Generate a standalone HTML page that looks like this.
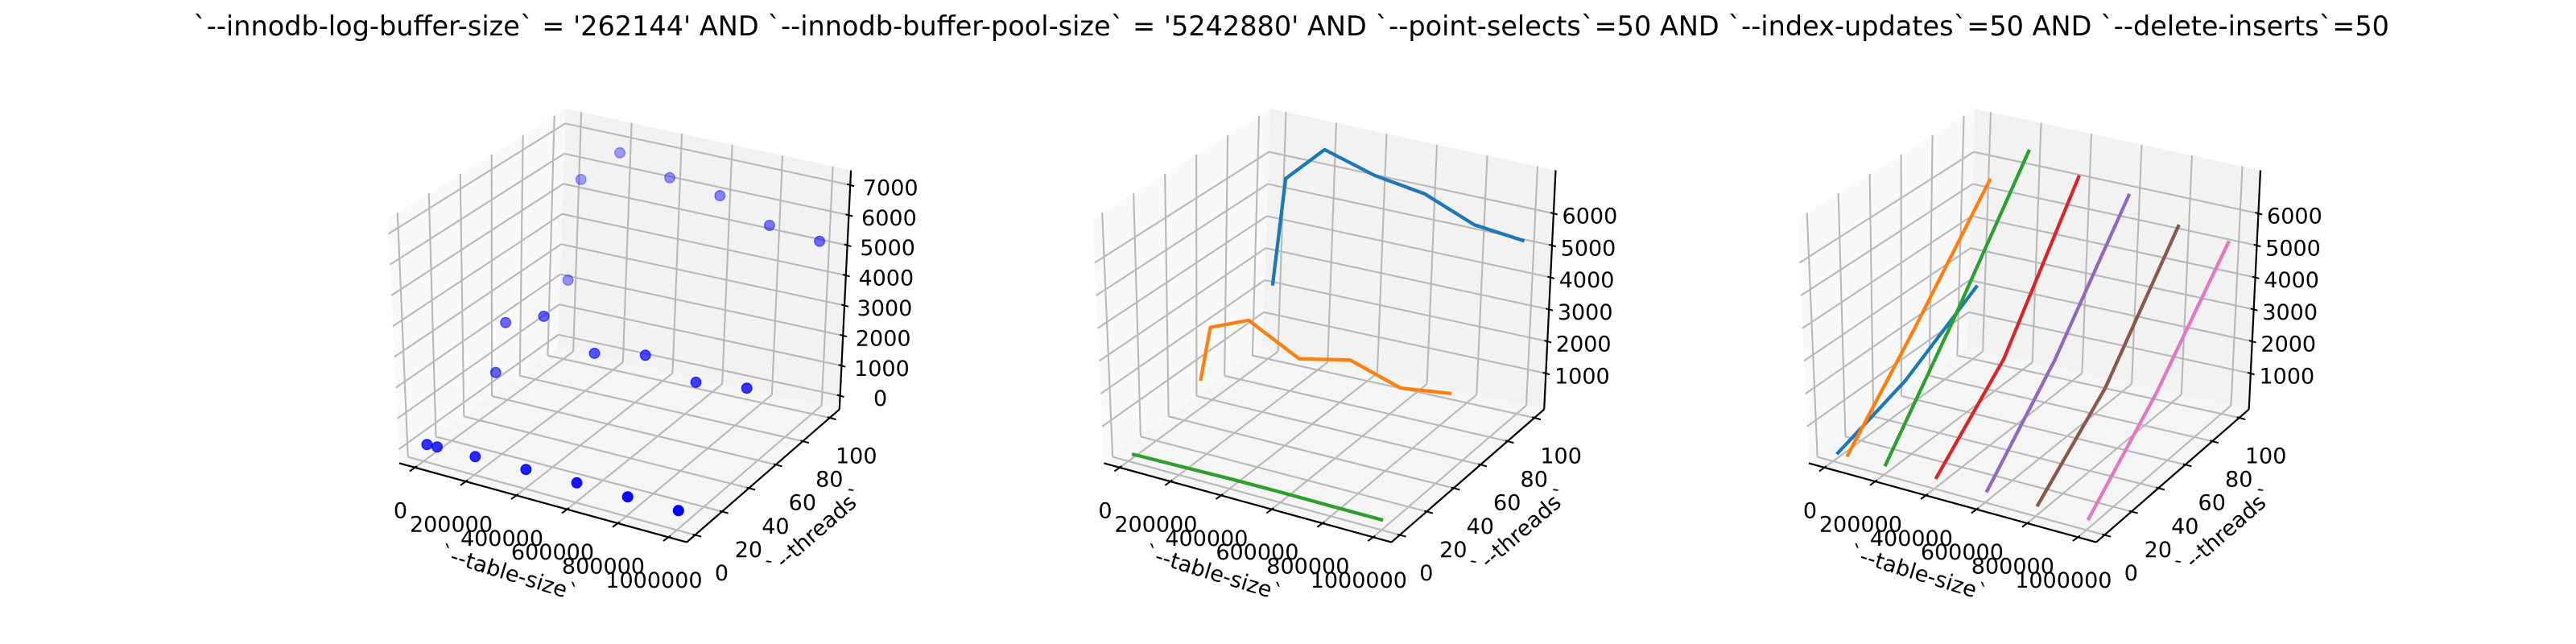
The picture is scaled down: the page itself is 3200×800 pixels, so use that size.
<!DOCTYPE html>
<html><head><meta charset="utf-8">
<style>
html,body{margin:0;padding:0;background:#fff;}
svg{display:block;font-family:"DejaVu Sans","Liberation Sans",sans-serif;}
</style></head>
<body>
<svg id="chart" width="3200" height="800" viewBox="0 0 3200 800" xmlns="http://www.w3.org/2000/svg">
<rect x="0" y="0" width="3200" height="800" fill="#ffffff"/>
<text x="1604" y="44" font-size="34" text-anchor="middle" textLength="2728" lengthAdjust="spacingAndGlyphs">`--innodb-log-buffer-size` = '262144' AND `--innodb-buffer-pool-size` = '5242880'  AND `--point-selects`=50 AND `--index-updates`=50 AND `--delete-inserts`=50</text>
</svg>
<script>
// ---- data ----
const tableSizes = [10000, 50000, 200000, 400000, 600000, 800000, 1000000];
const threadCounts = [1, 50, 100];
const tpsThreads1 = [80, 90, 110, 140, 150, 140, 140];
const tpsThreads50 = [800, 2520, 3030, 2220, 2560, 2080, 2290];
const tpsThreads100 = [2180, 5580, 6740, 6280, 6050, 5430, 5270];
const xTickValues = [0, 200000, 400000, 600000, 800000, 1000000];
const xTickLabels = ["0", "200000", "400000", "600000", "800000", "1000000"];
const yTickValues = [0, 20, 40, 60, 80, 100];
const yTickLabels = ["0", "20", "40", "60", "80", "100"];
const zTickValues1 = [0, 1000, 2000, 3000, 4000, 5000, 6000, 7000];
const zTickLabels1 = ["0", "1000", "2000", "3000", "4000", "5000", "6000", "7000"];
const zTickValues2 = [1000, 2000, 3000, 4000, 5000, 6000];
const zTickLabels2 = ["1000", "2000", "3000", "4000", "5000", "6000"];
const lineColors = ["#1f77b4", "#ff7f0e", "#2ca02c", "#d62728", "#9467bd", "#8c564b", "#e377c2"];
const tpsByThreads = [tpsThreads1, tpsThreads50, tpsThreads100];

const svg = document.getElementById('chart');
const NS = "http://www.w3.org/2000/svg";
function mk(tag, attrs, parent) {
  const el = document.createElementNS(NS, tag);
  for (const k in attrs) el.setAttribute(k, attrs[k]);
  (parent || svg).appendChild(el);
  return el;
}

// screen positions of the 8 box corners for panel 1 (index: x,y,z bits)
const BOX_CORNERS = {
  c000: [496.0, 575.4], c100: [853.1, 673.6], c110: [1042.8, 508.5], c010: [693.0, 432.6],
  c001: [481.7, 271.7], c101: [858.0, 367.6], c111: [1057.1, 211.6], c011: [702.7, 135.0]
};
function makeProj(lim, dx) {
  const C = {};
  for (const k in BOX_CORNERS) C[k] = [BOX_CORNERS[k][0] + dx, BOX_CORNERS[k][1]];
  return function (x, y, z) {
    const u = (x - lim.x[0]) / (lim.x[1] - lim.x[0]);
    const v = (y - lim.y[0]) / (lim.y[1] - lim.y[0]);
    const w = (z - lim.z[0]) / (lim.z[1] - lim.z[0]);
    const r = [0, 0];
    for (let i = 0; i < 2; i++) {
      const b0 = C.c000[i] * (1 - u) * (1 - v) + C.c100[i] * u * (1 - v) + C.c110[i] * u * v + C.c010[i] * (1 - u) * v;
      const b1 = C.c001[i] * (1 - u) * (1 - v) + C.c101[i] * u * (1 - v) + C.c111[i] * u * v + C.c011[i] * (1 - u) * v;
      r[i] = b0 * (1 - w) + b1 * w;
    }
    const depth = (1 - u) * 0.5 + v * 0.866 + w * 0.3;
    return [r[0], r[1], depth];
  };
}

function line(g, p, q, stroke, w, name) {
  const el = mk('line', {x1: p[0], y1: p[1], x2: q[0], y2: q[1], stroke: stroke, 'stroke-width': w}, g);
  
  
  return el;
}
function poly(g, pts, fill, name) {
  const el = mk('polygon', {points: pts.map(p => p[0].toFixed(1) + ',' + p[1].toFixed(1)).join(' '), fill: fill, stroke: 'none'}, g);
  
  
}
function text(g, x, y, s, size, anchor, rot, name) {
  const el = mk('text', {x: x, y: y, 'font-size': size, 'text-anchor': anchor, 'dominant-baseline': 'central', fill: '#000'}, g);
  if (rot) el.setAttribute('transform', 'rotate(' + rot + ' ' + x + ' ' + y + ')');
  el.textContent = s;
  
  
}

function drawAxes(idx, lim, dxPanel, zTicks, zLabels, zLabelDx) {
  const g = mk('g', {});
  
  
  const P = makeProj(lim, dxPanel);
  const [x0, x1] = lim.x, [y0, y1] = lim.y, [z0, z1] = lim.z;
  poly(g, [P(x0, y0, z0), P(x1, y0, z0), P(x1, y1, z0), P(x0, y1, z0)], '#f5f5f5', 'floor-pane');
  poly(g, [P(x0, y0, z0), P(x0, y1, z0), P(x0, y1, z1), P(x0, y0, z1)], '#f9f9f9', 'left-pane');
  poly(g, [P(x0, y1, z0), P(x1, y1, z0), P(x1, y1, z1), P(x0, y1, z1)], '#f2f2f2', 'back-pane');
  const gc = '#b8b8b8', gw = 2.1;
  xTickValues.forEach(t => {
    line(g, P(t, y0, z0), P(t, y1, z0), gc, gw, 'x-grid-floor');
    line(g, P(t, y1, z0), P(t, y1, z1), gc, gw, 'x-grid-back');
  });
  yTickValues.forEach(t => {
    line(g, P(x0, t, z0), P(x1, t, z0), gc, gw, 'y-grid-floor');
    line(g, P(x0, t, z0), P(x0, t, z1), gc, gw, 'y-grid-left');
  });
  zTicks.forEach(t => {
    line(g, P(x0, y0, t), P(x0, y1, t), gc, gw, 'z-grid-left');
    line(g, P(x0, y1, t), P(x1, y1, t), gc, gw, 'z-grid-back');
  });
  line(g, P(x0, y0, z0), P(x1, y0, z0), '#000', 2.2, 'x-axis-line');
  line(g, P(x1, y0, z0), P(x1, y1, z0), '#000', 2.2, 'y-axis-line');
  line(g, P(x1, y1, z0), P(x1, y1, z1), '#000', 2.2, 'z-axis-line');
  function unit(p, q) { const dx = q[0] - p[0], dy = q[1] - p[1], l = Math.hypot(dx, dy); return [dx / l, dy / l]; }
  const dy = unit(P(x0, y0, z0), P(x0, y1, z0));
  const dxv = unit(P(x0, y0, z0), P(x1, y0, z0));
  xTickValues.forEach((t, i) => {
    const p = P(t, y0, z0);
    line(g, [p[0] - dy[0] * 8, p[1] - dy[1] * 8], [p[0] + dy[0] * 3, p[1] + dy[1] * 3], '#000', 2, 'x-tick');
    text(g, p[0] - 18, p[1] + 54, xTickLabels[i], 27, 'middle', 0, 'x-tick-label');
  });
  yTickValues.forEach((t, i) => {
    const p = P(x1, t, z0);
    line(g, [p[0] - dxv[0] * 3, p[1] - dxv[1] * 3], [p[0] + dxv[0] * 8, p[1] + dxv[1] * 8], '#000', 2, 'y-tick');
    text(g, p[0] + 33, p[1] + 48, yTickLabels[i], 27, 'middle', 0, 'y-tick-label');
  });
  zTicks.forEach((t, i) => {
    const p = P(x1, y1, t);
    line(g, [p[0] - dxv[0] * 4, p[1] - dxv[1] * 4], [p[0] + dxv[0] * 5, p[1] + dxv[1] * 5], '#000', 2, 'z-tick');
    text(g, p[0] + zLabelDx, p[1] + 4, zLabels[i], 27, 'middle', 0, 'z-tick-label');
  });
  const A = P(x0, y0, z0);
  text(g, A[0] + 136, A[1] + 137, '`--table-size`', 27, 'middle', 17, 'x-axis-title');
  text(g, A[0] + 518, A[1] + 85, '`--threads`', 27, 'middle', -41, 'y-axis-title');
  return {g: g, P: P};
}

const limXY = {x: [-62000, 1072000], y: [-6.2, 107.2]};
const lim1 = {x: limXY.x, y: limXY.y, z: [-450, 7490]};
const lim2 = {x: limXY.x, y: limXY.y, z: [-124, 7348]};

// ---- panel 1: scatter ----
const ax1 = drawAxes(1, lim1, 0, zTickValues1, zTickLabels1, 50);
const pts = [];
threadCounts.forEach((th, j) => {
  tableSizes.forEach((ts, i) => {
    pts.push({p: ax1.P(ts, th, tpsByThreads[j][i])});
  });
});
const ws = pts.map(o => o.p[2]);
const wmin = Math.min(...ws), wmax = Math.max(...ws);
pts.sort((a, b) => b.p[2] - a.p[2]);
pts.forEach(o => {
  const norm = wmax > wmin ? (o.p[2] - wmin) / (wmax - wmin) : 0;
  const alpha = 1 - 0.65 * norm;
  const c = mk('circle', {cx: o.p[0].toFixed(1), cy: o.p[1].toFixed(1), r: 6.3, fill: '#0000ff', 'fill-opacity': alpha.toFixed(2), stroke: '#0000ff', 'stroke-opacity': alpha.toFixed(2), 'stroke-width': 1.4}, ax1.g);
  
  
});

// ---- panel 2: one line per thread count ----
const ax2 = drawAxes(2, lim2, 875.4, zTickValues2, zTickLabels2, 45);
threadCounts.forEach((th, j) => {
  const d = tableSizes.map((ts, i) => { const p = ax2.P(ts, th, tpsByThreads[j][i]); return p[0].toFixed(1) + ',' + p[1].toFixed(1); }).join(' ');
  const pl = mk('polyline', {points: d, fill: 'none', stroke: lineColors[threadCounts.length - 1 - j], 'stroke-width': 4.3, 'stroke-linejoin': 'round'}, ax2.g);
  
  
});

// ---- panel 3: one line per table size ----
const ax3 = drawAxes(3, lim2, 1750.9, zTickValues2, zTickLabels2, 45);
tableSizes.forEach((ts, i) => {
  const d = threadCounts.map((th, j) => { const p = ax3.P(ts, th, tpsByThreads[j][i]); return p[0].toFixed(1) + ',' + p[1].toFixed(1); }).join(' ');
  const pl = mk('polyline', {points: d, fill: 'none', stroke: lineColors[i], 'stroke-width': 4.3, 'stroke-linejoin': 'round'}, ax3.g);
  
  
});
</script>
</body></html>
